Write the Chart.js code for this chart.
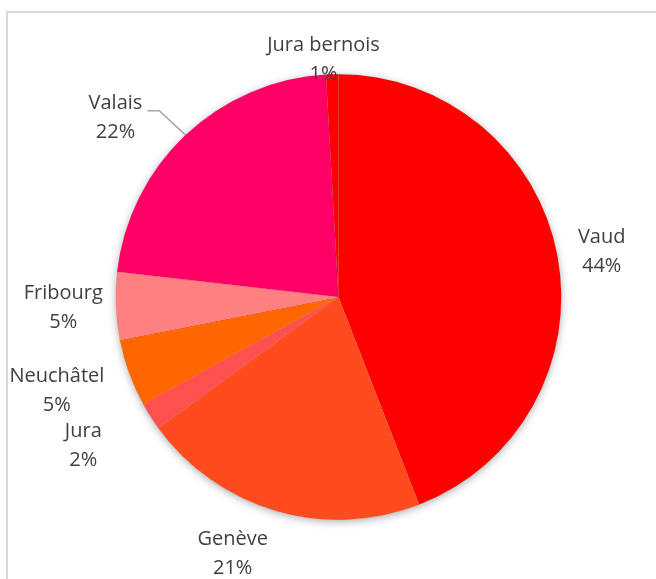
<!DOCTYPE html>
<html>
<head>
<meta charset="utf-8">
<script src="https://cdn.jsdelivr.net/npm/chart.js@4.4.1/dist/chart.umd.min.js"></script>
<style>
  html, body { margin: 0; padding: 0; background: #fff; overflow: hidden; }
  #frame { position: absolute; left: 6px; top: 11px; width: 800px; height: 800px; border: 2px solid #d9d9d9; }
  #chart { position: absolute; left: 0; top: 0; }
</style>
</head>
<body>
<div id="frame"></div>
<canvas id="chart" width="656" height="579"></canvas>
<script>
const categories = ['Vaud', 'Genève', 'Jura', 'Neuchâtel', 'Fribourg', 'Valais', 'Jura bernois']
const shares = [44.1, 20.9, 2.0, 4.9, 4.9, 22.3, 0.9]
const sliceColors = ['#ff0000', '#ff4b1e', '#ff5050', '#ff6600', '#ff8080', '#ff0066', '#ff0000']

// label placement tweaks (px gap outside the pie, degrees shift along the rim)
const labelGap = [16, 15, 42, 20, 12, 24, -18]
const labelShift = [0.8, 6, 2.2, 1.5, 0, -7.9, -2]
const leaderFor = 'Valais'

const labelFont = '20px "Open Sans", sans-serif'
const lineH = 29

const pieShadow = {
    id: 'pieShadow',
    beforeDatasetsDraw(chart) {
        const arc = chart.getDatasetMeta(0).data[0]
        if (!arc) return
        const ctx = chart.ctx
        ctx.save()
        ctx.shadowColor = 'rgba(0,0,0,0.35)'
        ctx.shadowBlur = 9
        ctx.shadowOffsetY = 2
        ctx.fillStyle = '#fff'
        ctx.beginPath()
        ctx.arc(arc.x, arc.y, arc.outerRadius - 0.5, 0, Math.PI * 2)
        ctx.fill()
        ctx.restore()
    }
}

const outsideLabels = {
    id: 'outsideLabels',
    afterDatasetsDraw(chart) {
        const ctx = chart.ctx
        const meta = chart.getDatasetMeta(0)
        const total = shares.reduce((a, b) => a + b, 0)
        ctx.save()
        ctx.font = labelFont
        ctx.fillStyle = '#404040'
        ctx.textAlign = 'center'
        ctx.textBaseline = 'middle'
        meta.data.forEach((arc, i) => {
            const pct = Math.round(shares[i] / total * 100) + '%'
            const w = Math.max(ctx.measureText(categories[i]).width, ctx.measureText(pct).width)
            const h = lineH * 2
            const mid = (arc.startAngle + arc.endAngle) / 2
            const ang = mid + labelShift[i] * Math.PI / 180
            const ux = Math.cos(ang), uy = Math.sin(ang)
            const ext = Math.abs(ux) * w / 2 + Math.abs(uy) * h / 2
            const d = arc.outerRadius + labelGap[i] + ext
            const cx = arc.x + ux * d
            const cy = arc.y + uy * d
            ctx.fillText(categories[i], cx, cy - lineH / 2)
            ctx.fillText(pct, cx, cy + lineH / 2)

            if (categories[i] === leaderFor) {
                const ex = arc.x + Math.cos(mid) * arc.outerRadius
                const ey = arc.y + Math.sin(mid) * arc.outerRadius
                const ly = cy - lineH / 2 + 7
                const rx = cx + ctx.measureText(categories[i]).width / 2
                ctx.strokeStyle = '#a6a6a6'
                ctx.lineWidth = 1.5
                ctx.beginPath()
                ctx.moveTo(ex, ey)
                ctx.lineTo(rx + 17, ly)
                ctx.lineTo(rx + 5, ly)
                ctx.stroke()
            }
        })
        ctx.restore()
    }
}

new Chart(document.getElementById('chart'), {
    type: 'pie',
    data: {
        labels: categories,
        datasets: [{
            data: shares,
            backgroundColor: sliceColors,
            borderColor: 'rgba(0,0,0,0.12)',
            borderWidth: 0.5
        }]
    },
    options: {
        responsive: false,
        animation: false,
        layout: { padding: { left: 115, right: 94, top: 74, bottom: 59 } },
        plugins: {
            legend: { display: false },
            tooltip: { enabled: false }
        }
    },
    plugins: [pieShadow, outsideLabels]
})
</script>
</body>
</html>
